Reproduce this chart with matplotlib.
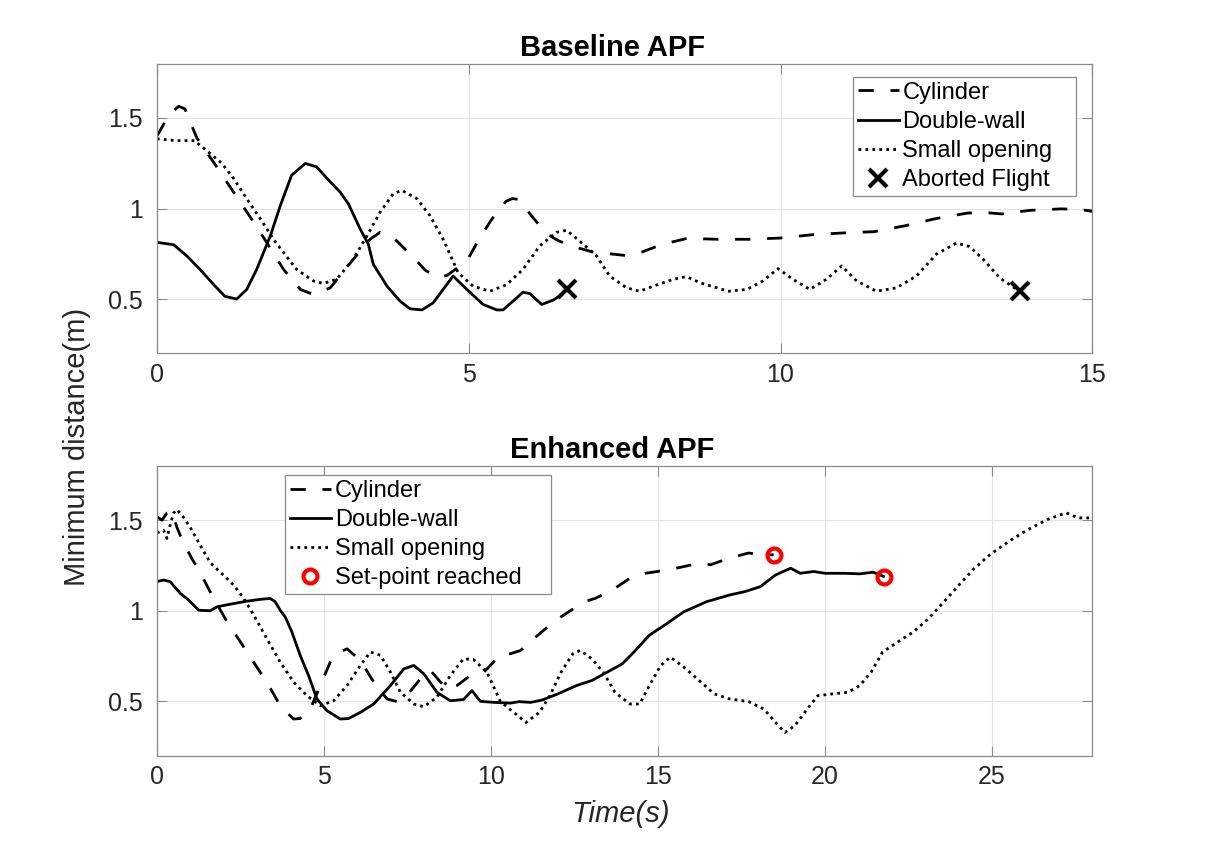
import matplotlib
matplotlib.use("Agg")
import matplotlib.pyplot as plt
import numpy as np

# ---------------- Baseline APF data ----------------
base_cyl_t = [0, 0.2, 0.35, 0.45, 0.64, 0.9, 1.23, 1.55, 1.76, 2.03, 2.30, 2.51, 2.78, 3.15, 3.42, 3.58,
              3.82, 4.14, 4.3, 4.5, 4.65, 4.81, 4.97, 5.18, 5.35, 5.45, 5.6, 5.7, 5.8, 6.03, 6.25, 6.45,
              6.78, 6.99, 7.26, 7.53, 7.78, 8.01, 8.26, 8.5, 9.0, 9.5, 10.0, 10.5, 11.0, 11.5, 12.0,
              12.5, 13.0, 13.3, 13.55, 14.0, 14.5, 14.8, 15.0]
base_cyl_y = [1.40, 1.52, 1.565, 1.55, 1.39, 1.26, 1.09, 0.925, 0.813, 0.664, 0.553, 0.525, 0.562, 0.72,
              0.831, 0.869, 0.83, 0.72, 0.66, 0.62, 0.63, 0.67, 0.71, 0.84, 0.93, 0.98, 1.04, 1.055, 1.05,
              0.95, 0.86, 0.82, 0.78, 0.76, 0.75, 0.74, 0.76, 0.79, 0.815, 0.835, 0.83, 0.83, 0.837,
              0.855, 0.865, 0.872, 0.905, 0.945, 0.975, 0.977, 0.97, 0.99, 0.998, 0.995, 0.984]

base_dw_t = [0, 0.27, 0.48, 0.69, 0.91, 1.09, 1.28, 1.44, 1.6, 1.82, 1.98, 2.16, 2.38, 2.56, 2.78, 2.94,
             3.07, 3.26, 3.39, 3.47, 3.69, 3.9, 4.06, 4.25, 4.43, 4.59, 4.75, 4.97, 5.23, 5.45, 5.55,
             5.71, 5.87, 5.98, 6.17, 6.36, 6.49, 6.57]
base_dw_y = [0.813, 0.80, 0.738, 0.664, 0.58, 0.515, 0.50, 0.553, 0.664, 0.85, 1.017, 1.184, 1.249, 1.23,
             1.147, 1.09, 1.026, 0.887, 0.803, 0.692, 0.571, 0.488, 0.446, 0.44, 0.479, 0.553, 0.627,
             0.553, 0.47, 0.44, 0.44, 0.488, 0.538, 0.53, 0.47, 0.495, 0.525, 0.553]

base_so_t = [0, 0.3, 0.6, 0.69, 0.85, 1.04, 1.23, 1.44, 1.66, 1.87, 2.03, 2.24, 2.51, 2.67, 2.88, 3.15,
             3.37, 3.58, 3.79, 3.93, 4.17, 4.38, 4.59, 4.83, 5.07, 5.34, 5.61, 5.87, 6.14, 6.41, 6.57,
             6.78, 7.05, 7.26, 7.53, 7.74, 7.96, 8.28, 8.49, 8.71, 9.16, 9.46, 9.72, 9.96, 10.2, 10.47,
             10.74, 10.98, 11.22, 11.54, 11.86, 12.18, 12.5, 12.82, 13.03, 13.25, 13.51, 13.83]
base_so_y = [1.385, 1.375, 1.375, 1.35, 1.305, 1.25, 1.166, 1.054, 0.943, 0.83, 0.757, 0.664, 0.60, 0.586,
             0.609, 0.72, 0.85, 0.98, 1.082, 1.10, 1.054, 0.96, 0.83, 0.646, 0.571, 0.543, 0.58, 0.664,
             0.794, 0.869, 0.88, 0.82, 0.738, 0.627, 0.562, 0.543, 0.571, 0.609, 0.624, 0.59, 0.543,
             0.553, 0.60, 0.668, 0.609, 0.553, 0.61, 0.683, 0.60, 0.543, 0.562, 0.627, 0.748, 0.809,
             0.79, 0.72, 0.618, 0.543]

abort_t = [6.57, 13.84]
abort_y = [0.555, 0.544]

# ---------------- Enhanced APF data ----------------
enh_cyl_t = [0, 0.15, 0.3, 0.45, 0.6, 0.76, 1.04, 1.25, 1.7, 2.1, 2.5, 2.89, 3.29, 3.69, 4.09, 4.29,
             4.59, 4.89, 5.19, 5.39, 5.69, 6.09, 6.49, 6.89, 7.19, 7.49, 7.89, 8.19, 8.49, 8.69, 8.98,
             9.38, 9.78, 10.08, 10.27, 10.58, 10.88, 11.28, 11.64, 12.1, 12.79, 13.13, 13.71, 14.16,
             14.62, 15.31, 15.77, 16.23, 16.57, 17.14, 17.71, 18.17, 18.46]
enh_cyl_y = [1.52, 1.50, 1.54, 1.55, 1.46, 1.39, 1.29, 1.226, 1.068, 0.939, 0.828, 0.717, 0.606, 0.476,
             0.402, 0.405, 0.457, 0.587, 0.717, 0.763, 0.79, 0.726, 0.606, 0.513, 0.498, 0.535, 0.624,
             0.67, 0.606, 0.57, 0.587, 0.642, 0.66, 0.717, 0.754, 0.763, 0.78, 0.846, 0.902, 0.967,
             1.05, 1.069, 1.124, 1.18, 1.207, 1.226, 1.244, 1.263, 1.254, 1.291, 1.319, 1.309, 1.309]

enh_dw_t = [0, 0.2, 0.4, 0.7, 0.95, 1.25, 1.6, 1.8, 2.3, 2.69, 3.09, 3.39, 3.54, 3.69, 3.84, 4.04, 4.29,
            4.54, 4.79, 5.09, 5.49, 5.74, 6.09, 6.49, 6.99, 7.39, 7.69, 7.99, 8.38, 8.78, 9.18, 9.43,
            9.68, 10.08, 10.58, 10.84, 11.19, 11.53, 11.99, 12.56, 13.02, 13.48, 13.93, 14.28, 14.74,
            15.19, 15.77, 16.45, 17.14, 17.6, 18.06, 18.52, 18.97, 19.26, 19.66, 20.0, 20.58, 21.04,
            21.44, 21.75]
enh_dw_y = [1.161, 1.17, 1.16, 1.096, 1.059, 1.003, 1.0, 1.022, 1.04, 1.053, 1.063, 1.068, 1.05, 1.003,
            0.966, 0.883, 0.753, 0.642, 0.513, 0.448, 0.402, 0.405, 0.439, 0.485, 0.587, 0.679, 0.698,
            0.652, 0.55, 0.503, 0.51, 0.559, 0.50, 0.494, 0.49, 0.498, 0.494, 0.507, 0.54, 0.587, 0.615,
            0.661, 0.707, 0.772, 0.865, 0.92, 0.994, 1.05, 1.087, 1.106, 1.133, 1.198, 1.235, 1.207,
            1.217, 1.207, 1.207, 1.204, 1.213, 1.19]

enh_so_t = [0, 0.2, 0.3, 0.4, 0.5, 0.6, 0.8, 1.0, 1.3, 1.6, 2.0, 2.3, 2.6, 2.9, 3.29, 3.69, 4.09, 4.49,
            4.89, 5.29, 5.69, 6.09, 6.39, 6.69, 6.99, 7.29, 7.69, 7.99, 8.38, 8.78, 9.18, 9.48, 9.88,
            10.28, 10.68, 11.05, 11.45, 11.76, 12.1, 12.45, 12.67, 13.02, 13.36, 13.71, 14.16, 14.45,
            14.74, 15.08, 15.37, 15.77, 16.23, 16.68, 17.14, 17.71, 18.17, 18.52, 18.8, 19.09, 19.43,
            19.78, 20.23, 20.69, 21.04, 21.38, 21.72, 22.18, 22.64, 23.1, 23.56, 24.01, 24.47, 24.93,
            25.5, 26.07, 26.65, 27.22, 27.57, 28.0]
enh_so_y = [1.43, 1.445, 1.40, 1.476, 1.54, 1.559, 1.515, 1.46, 1.36, 1.265, 1.195, 1.142, 1.068, 0.976,
            0.846, 0.717, 0.606, 0.531, 0.476, 0.503, 0.587, 0.698, 0.772, 0.754, 0.661, 0.55, 0.485,
            0.47, 0.522, 0.642, 0.735, 0.73, 0.661, 0.50, 0.439, 0.383, 0.439, 0.531, 0.661, 0.763,
            0.781, 0.735, 0.661, 0.55, 0.485, 0.485, 0.587, 0.698, 0.744, 0.689, 0.615, 0.541, 0.513,
            0.498, 0.457, 0.383, 0.328, 0.365, 0.448, 0.531, 0.541, 0.55, 0.587, 0.661, 0.772, 0.828,
            0.883, 0.957, 1.05, 1.143, 1.235, 1.309, 1.383, 1.448, 1.504, 1.541, 1.513, 1.513]

setpoint_t = [18.46, 21.75]
setpoint_y = [1.307, 1.185]

base_xticks = [0, 5, 10, 15]
enh_xticks = [0, 5, 10, 15, 20, 25]
yticks = [0.5, 1, 1.5]
ytick_labels = ['0.5', '1', '1.5']

# ---------------- Styling ----------------
plt.rcParams['font.family'] = ['Liberation Sans', 'DejaVu Sans']
AXC = '#262626'
SPC = '#8a8a8a'
LW = 2.0
DASH = (5.5, 6.0)
DOT = (1.0, 1.5)
TICK_FS = 18
LABEL_FS = 21
LEG_FS = 17

fig = plt.figure(figsize=(12.07, 8.49), dpi=100)
ax1 = fig.add_axes([0.13, 0.5838, 0.775, 0.3412])
ax2 = fig.add_axes([0.13, 0.11, 0.775, 0.3412])


def style(ax, xlim, xticks):
    ax.set_xlim(*xlim)
    ax.set_ylim(0.2, 1.8)
    ax.set_xticks(xticks)
    ax.set_yticks(yticks)
    ax.set_yticklabels(ytick_labels)
    ax.grid(True, color='#e3e3e3', linewidth=0.8)
    ax.set_axisbelow(True)
    for s in ax.spines.values():
        s.set_color(SPC)
        s.set_linewidth(0.9)
    ax.tick_params(direction='in', length=7, width=0.8, color=SPC,
                   top=True, right=True, labelsize=TICK_FS, labelcolor=AXC)
    ax.tick_params(axis='x', pad=7)
    ax.tick_params(axis='y', pad=10)


def legend(ax, x0, x1, ytop):
    leg = ax.legend(loc='upper left', bbox_to_anchor=(x0, ytop - 0.5, x1 - x0, 0.5),
                    mode='expand', borderaxespad=0,
                    fontsize=LEG_FS, fancybox=False, framealpha=1, edgecolor=SPC,
                    handlelength=1.75, handletextpad=0.15, labelspacing=0.3,
                    borderpad=0.2)
    leg.get_frame().set_linewidth(0.9)
    return leg


# Baseline
ax1.plot(base_cyl_t, base_cyl_y, color='k', lw=LW, linestyle=(0, DASH), label='Cylinder')
ax1.plot(base_dw_t, base_dw_y, color='k', lw=LW, linestyle='-', label='Double-wall')
ax1.plot(base_so_t, base_so_y, color='k', lw=LW, linestyle=(0, DOT), label='Small opening')
ax1.plot(abort_t, abort_y, linestyle='none', marker='x', color='k', markersize=13,
         markeredgewidth=3, label='Aborted Flight')
style(ax1, (0, 15), base_xticks)
ax1.set_title('Baseline APF', fontsize=LABEL_FS, fontweight='bold', pad=5.5, x=0.487)
legend(ax1, 0.744, 0.983, 0.954)

# Enhanced
ax2.plot(enh_cyl_t, enh_cyl_y, color='k', lw=LW, linestyle=(0, DASH), label='Cylinder')
ax2.plot(enh_dw_t, enh_dw_y, color='k', lw=LW, linestyle='-', label='Double-wall')
ax2.plot(enh_so_t, enh_so_y, color='k', lw=LW, linestyle=(0, DOT), label='Small opening')
ax2.plot(setpoint_t, setpoint_y, linestyle='none', marker='o', markerfacecolor='none',
         markeredgecolor='#ff0000', markersize=10, markeredgewidth=3, label='Set-point reached')
style(ax2, (0, 28), enh_xticks)
ax2.set_title('Enhanced APF', fontsize=LABEL_FS, fontweight='bold', pad=5.5, x=0.487)
ax2.set_xlabel('Time(s)', fontsize=LABEL_FS, fontstyle='italic', color=AXC, labelpad=8)
ax2.xaxis.label.set_x(0.4955)
legend(ax2, 0.137, 0.4217, 0.967)

fig.text(0.064, 0.4735, 'Minimum distance(m)', rotation=90, va='center', ha='center',
         fontsize=LABEL_FS, color=AXC)

fig.savefig('out.png', dpi=100)
